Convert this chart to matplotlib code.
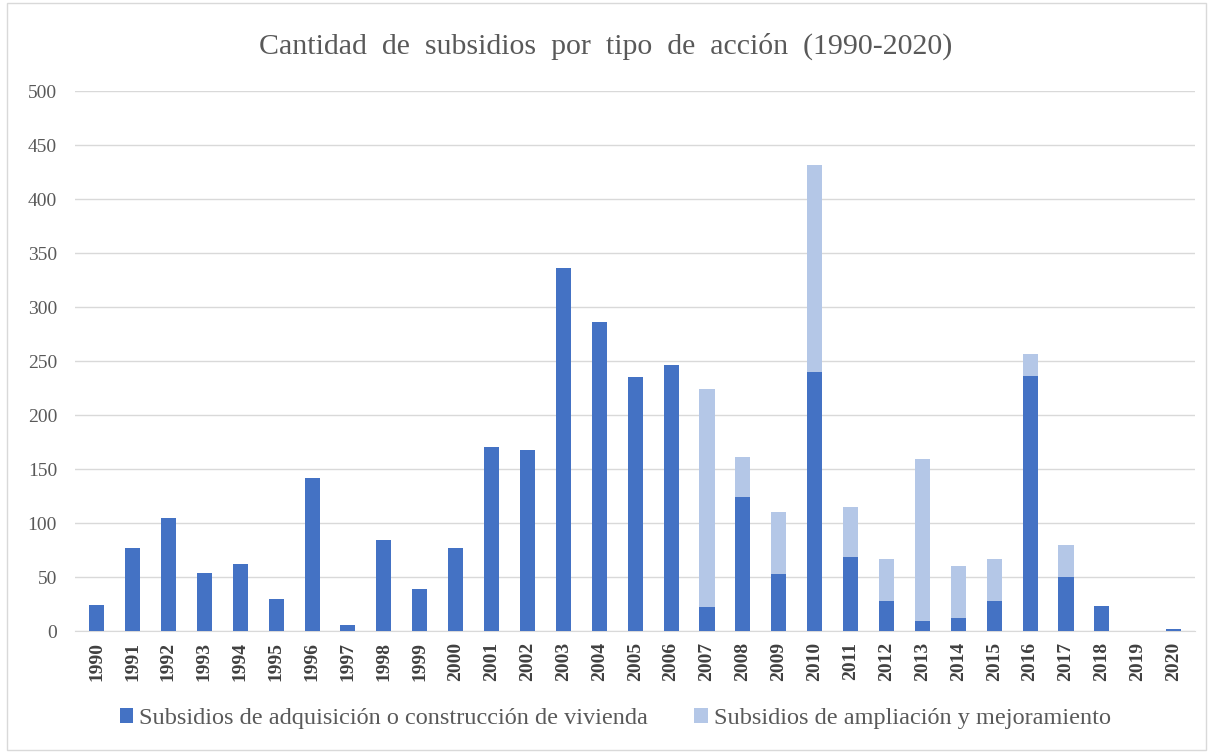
import matplotlib
matplotlib.use("Agg")
import matplotlib.pyplot as plt
from matplotlib.patches import Rectangle
import numpy as np

years = [str(y) for y in range(1990, 2021)]
adquisicion = [24, 77, 105, 54, 62, 30, 142, 6, 84, 39, 77, 170, 168, 336, 286, 235, 246,
               22, 124, 53, 240, 69, 28, 9, 12, 28, 236, 50, 23, 0, 2]
total = [24, 77, 105, 54, 62, 30, 142, 6, 84, 39, 77, 170, 168, 336, 286, 235, 246,
         224, 161, 110, 432, 115, 67, 159, 60, 67, 257, 80, 23, 0, 2]
ampliacion = [t - a for t, a in zip(total, adquisicion)]

labels = ["Subsidios de adquisición o construcción de vivienda",
          "Subsidios de ampliación y mejoramiento"]
title = "Cantidad  de  subsidios  por  tipo  de  acción  (1990-2020)"

serif = ["Liberation Serif", "DejaVu Serif"]
plt.rcParams["font.family"] = serif

fig = plt.figure(figsize=(12.11, 7.53), dpi=100)
ax = fig.add_axes([0.062, 0.162, 0.925, 0.717])

x = np.arange(len(years))
w = 0.42
ax.bar(x, adquisicion, w, color="#4472C4", label=labels[0], zorder=3)
ax.bar(x, ampliacion, w, bottom=adquisicion, color="#B4C7E7", label=labels[1], zorder=3)

ax.set_xlim(-0.6, len(years) - 0.4)
ax.set_ylim(0, 500)
ax.set_yticks(range(0, 501, 50))
ax.yaxis.grid(True, color="#d9d9d9", linewidth=1, zorder=0)
for s in ["top", "right", "left"]:
    ax.spines[s].set_visible(False)
ax.spines["bottom"].set_color("#d9d9d9")
ax.tick_params(axis="y", length=0, labelsize=14, labelcolor="#595959", pad=13)
ax.tick_params(axis="x", length=0, pad=8)
ax.set_xticks(x)
ax.set_xticklabels(years, rotation=90, fontsize=14, fontweight="bold", color="#404040")

fig.text(0.5, 0.938, title, ha="center", va="center", fontsize=21.5, color="#595959")

fig.legend(loc="center", bbox_to_anchor=(0.508, 0.046), ncol=2, frameon=False,
           fontsize=17.5, labelcolor="#595959", handlelength=0.55, handleheight=0.55,
           handletextpad=0.25, columnspacing=1.9)

fig.patches.append(Rectangle((0.006, 0.004), 0.99, 0.992, transform=fig.transFigure,
                             fill=False, edgecolor="#d9d9d9", linewidth=1))

fig.savefig("out.png", dpi=100)
